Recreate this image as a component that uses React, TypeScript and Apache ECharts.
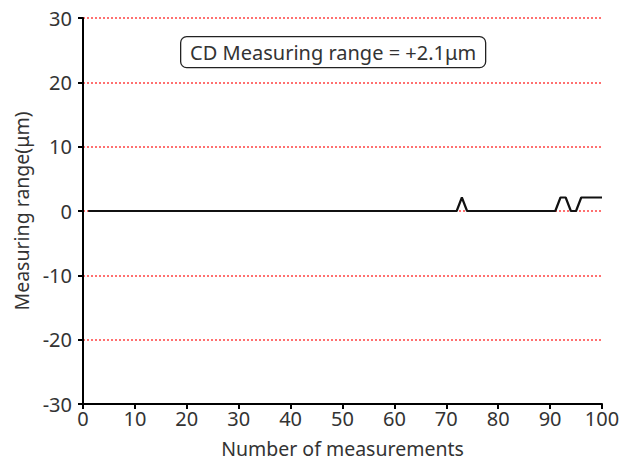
import React, { useEffect, useRef } from "react";
import * as echarts from "echarts";

const measurementNumbers: number[] = [
  1, 2, 3, 4, 5, 6, 7, 8, 9, 10, 11, 12, 13, 14, 15, 16, 17, 18, 19, 20,
  21, 22, 23, 24, 25, 26, 27, 28, 29, 30, 31, 32, 33, 34, 35, 36, 37, 38, 39, 40,
  41, 42, 43, 44, 45, 46, 47, 48, 49, 50, 51, 52, 53, 54, 55, 56, 57, 58, 59, 60,
  61, 62, 63, 64, 65, 66, 67, 68, 69, 70, 71, 72, 73, 74, 75, 76, 77, 78, 79, 80,
  81, 82, 83, 84, 85, 86, 87, 88, 89, 90, 91, 92, 93, 94, 95, 96, 97, 98, 99, 100,
];

const rangeValues: number[] = [
  0, 0, 0, 0, 0, 0, 0, 0, 0, 0, 0, 0, 0, 0, 0, 0, 0, 0, 0, 0,
  0, 0, 0, 0, 0, 0, 0, 0, 0, 0, 0, 0, 0, 0, 0, 0, 0, 0, 0, 0,
  0, 0, 0, 0, 0, 0, 0, 0, 0, 0, 0, 0, 0, 0, 0, 0, 0, 0, 0, 0,
  0, 0, 0, 0, 0, 0, 0, 0, 0, 0, 0, 0, 2.1, 0, 0, 0, 0, 0, 0, 0,
  0, 0, 0, 0, 0, 0, 0, 0, 0, 0, 0, 2.1, 2.1, 0, 0, 2.1, 2.1, 2.1, 2.1, 2.1,
];

const annotationText = "CD Measuring range = +2.1μm";
const xAxisName = "Number of measurements";
const yAxisName = "Measuring range(μm)";

export default function App() {
  const ref = useRef<HTMLDivElement>(null);
  useEffect(() => {
    if (!ref.current) return;
    const chart = echarts.init(ref.current, undefined, { renderer: "svg" });
    const font = "'Noto Sans', 'Open Sans', sans-serif";
    chart.setOption({
      animation: false,
      textStyle: { fontFamily: font },
      grid: { left: 83, right: 30, top: 18, bottom: 57, containLabel: false },
      xAxis: {
        type: "value",
        min: 0,
        max: 100,
        interval: 10,
        name: xAxisName,
        nameLocation: "middle",
        nameGap: 34,
        nameTextStyle: { fontSize: 19.5, color: "#333", fontFamily: font },
        axisLine: { show: true, onZero: false, lineStyle: { color: "#000", width: 2 } },
        axisTick: { show: true, inside: false, length: 5, lineStyle: { color: "#000", width: 2 } },
        axisLabel: { fontSize: 20, color: "#333", margin: 4, fontFamily: font },
        splitLine: { show: false },
      },
      yAxis: {
        type: "value",
        min: -30,
        max: 30,
        interval: 10,
        name: yAxisName,
        nameLocation: "middle",
        nameGap: 51,
        nameTextStyle: { fontSize: 19.5, color: "#333", fontFamily: font },
        axisLine: { show: true, onZero: false, lineStyle: { color: "#000", width: 2 } },
        axisTick: { show: true, inside: false, length: 5, lineStyle: { color: "#000", width: 2 } },
        axisLabel: { fontSize: 20, color: "#333", margin: 11, fontFamily: font },
        splitLine: {
          show: true,
          lineStyle: { color: "#ff7070", type: [2, 2], width: 2 },
        },
      },
      graphic: [
        {
          type: "group",
          left: 180,
          top: 36,
          z: 10,
          children: [
            {
              type: "rect",
              shape: { x: 0, y: 0, width: 305, height: 31, r: 6 },
              style: { fill: "#fff", stroke: "#222", lineWidth: 1.3 },
            },
            {
              type: "text",
              x: 152.5,
              y: 16,
              style: {
                text: annotationText,
                fontSize: 20,
                fontFamily: font,
                fill: "#333",
                align: "center",
                verticalAlign: "middle",
              },
            },
          ],
        },
      ],
      series: [
        {
          type: "line",
          data: measurementNumbers.map((x, i) => [x, rangeValues[i]]),
          showSymbol: false,
          symbol: "none",
          lineStyle: { color: "#111", width: 2.2 },
          z: 3,
        },
      ],
    });
    return () => chart.dispose();
  }, []);
  return (
    <div
      ref={ref}
      style={{ position: "absolute", left: 0, top: 0, width: 632, height: 463 }}
    />
  );
}
